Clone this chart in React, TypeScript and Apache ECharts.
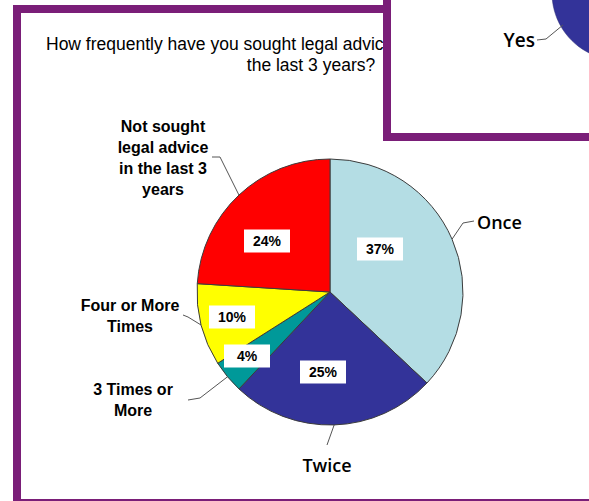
import React, { useEffect, useRef } from "react";
import * as echarts from "echarts";

// ---------------- data ----------------
const categories = [
  "Once",
  "Twice",
  "3 Times or More",
  "Four or More Times",
  "Not sought legal advice in the last 3 years",
];
const shares = [37, 25, 4, 10, 24];
const outsideLabels = [
  "Once",
  "Twice",
  "3 Times or\nMore",
  "Four or More\nTimes",
  "Not sought\nlegal advice\nin the last 3\nyears",
];
const titleLines = ["How frequently have you sought legal advice in", "the last 3 years?"];
const insetLabel = "Yes";

// ---------------- styles / layout ----------------
const sliceColors = ["#b4dde4", "#333399", "#009999", "#ffff00", "#ff0000"];
const PURPLE = "#7a1e78";
const ARIAL = '"Liberation Sans", Arial, sans-serif';
const SANS = '"Open Sans", "Noto Sans", sans-serif';
const PIE_CX = 330;
const PIE_CY = 292;
const PIE_R = 133;

// inside (percentage) label centres, offsets from pie centre
const insideLabelOffset = [
  [50, -43],
  [-7, 80],
  [-83, 64],
  [-98, 25],
  [-63, -51],
];
// outside label anchors, offsets from pie centre
const outsideLabelPlace = [
  { dx: 147, dy: -70, align: "left" },
  { dx: -3, dy: 173, align: "center" },
  { dx: -197, dy: 108, align: "center" },
  { dx: -200, dy: 24, align: "center" },
  { dx: -167, dy: -134, align: "center" },
];
// leader line bends (offsets from pie centre)
const leaderBends = [
  [[133, -69], [144, -71]],
  [[-3, 153], [-3, 153]],
  [[-130, 106], [-142, 108]],
  [[-142, 25], [-147, 23]],
  [[-110, -135], [-118, -135]],
];
const outsideFonts = [
  { fontFamily: SANS, fontWeight: 600, fontSize: 18, lineHeight: 22 },
  { fontFamily: SANS, fontWeight: 600, fontSize: 18, lineHeight: 22 },
  { fontFamily: ARIAL, fontWeight: "bold", fontSize: 16, lineHeight: 21 },
  { fontFamily: ARIAL, fontWeight: "bold", fontSize: 16, lineHeight: 21 },
  { fontFamily: ARIAL, fontWeight: "bold", fontSize: 16, lineHeight: 21 },
];

const total = shares.reduce((a, b) => a + b, 0);
const midAngles = shares.map((v, i) => {
  const before = shares.slice(0, i).reduce((a, b) => a + b, 0);
  return ((before + v / 2) / total) * 2 * Math.PI;
});
const edgePoint = (i: number) => [
  PIE_CX + PIE_R * Math.sin(midAngles[i]),
  PIE_CY - PIE_R * Math.cos(midAngles[i]),
];

export default function App() {
  const ref = useRef<HTMLDivElement>(null);

  useEffect(() => {
    if (!ref.current) return;
    const chart = echarts.init(ref.current, null, { renderer: "svg" });

    const option: any = {
      animation: false,
      backgroundColor: "#ffffff",
      graphic: [
        {
          type: "rect",
          z: 0,
          shape: { x: 17, y: 9, width: 800, height: 494 },
          style: { fill: "#ffffff", stroke: PURPLE, lineWidth: 8 },
        },
        {
          type: "text",
          z: 1,
          x: 46,
          y: 44,
          style: {
            text: titleLines[0],
            fill: "#000",
            fontFamily: ARIAL,
            fontSize: 17.5,
            align: "left",
            verticalAlign: "middle",
          },
        },
        {
          type: "text",
          z: 1,
          x: 311,
          y: 65,
          style: {
            text: titleLines[1],
            fill: "#000",
            fontFamily: ARIAL,
            fontSize: 17.5,
            align: "center",
            verticalAlign: "middle",
          },
        },
        {
          type: "rect",
          z: 100,
          shape: { x: 387, y: -20, width: 400, height: 157 },
          style: { fill: "#ffffff", stroke: PURPLE, lineWidth: 8 },
        },
        {
          type: "circle",
          z: 101,
          shape: { cx: 619, cy: -7, r: 67 },
          style: { fill: "#333399", stroke: "#2a2a70", lineWidth: 0.5 },
        },
        {
          type: "polyline",
          z: 101,
          shape: { points: [[537, 40], [546, 39], [563, 25]] },
          style: { stroke: "#555", lineWidth: 1, fill: "none" },
        },
        {
          type: "text",
          z: 101,
          x: 535,
          y: 40,
          style: {
            text: insetLabel,
            fill: "#000",
            fontFamily: SANS,
            fontWeight: 600,
            fontSize: 19,
            align: "right",
            verticalAlign: "middle",
          },
        },
      ],
      series: [
        {
          type: "pie",
          z: 2,
          silent: true,
          center: [PIE_CX, PIE_CY],
          radius: PIE_R,
          startAngle: 90,
          clockwise: true,
          avoidLabelOverlap: false,
          emphasis: { disabled: true },
          itemStyle: { borderColor: "#3c3c3c", borderWidth: 1 },
          data: categories.map((name, i) => ({
            name,
            value: shares[i],
            itemStyle: { color: sliceColors[i] },
            label: { ...outsideFonts[i] },
          })),
          label: {
            show: true,
            position: "outside",
            color: "#000",
            formatter: (p: any) => outsideLabels[p.dataIndex],
          },
          labelLine: {
            show: true,
            length: 15,
            length2: 8,
            lineStyle: { color: "#555", width: 1 },
          },
          labelLayout: (p: any) => {
            const i = p.dataIndex;
            const place = outsideLabelPlace[i];
            const bends = leaderBends[i];
            return {
              x: PIE_CX + place.dx,
              y: PIE_CY + place.dy,
              align: place.align,
              verticalAlign: "middle",
              labelLinePoints: [
                edgePoint(i),
                [PIE_CX + bends[0][0], PIE_CY + bends[0][1]],
                [PIE_CX + bends[1][0], PIE_CY + bends[1][1]],
              ],
            };
          },
        },
        {
          type: "pie",
          z: 3,
          silent: true,
          center: [PIE_CX, PIE_CY],
          radius: PIE_R,
          startAngle: 90,
          clockwise: true,
          avoidLabelOverlap: false,
          emphasis: { disabled: true },
          itemStyle: { color: "rgba(0,0,0,0)", borderWidth: 0 },
          data: categories.map((name, i) => ({ name, value: shares[i] })),
          label: {
            show: true,
            position: "inside",
            formatter: (p: any) => `${p.value}%`,
            backgroundColor: "#ffffff",
            padding: [3, 8],
            width: 30,
            align: "center",
            color: "#000",
            fontFamily: ARIAL,
            fontWeight: "bold",
            fontSize: 14,
            lineHeight: 17,
          },
          labelLine: { show: false },
          labelLayout: (p: any) => {
            const o = insideLabelOffset[p.dataIndex];
            return {
              x: PIE_CX + o[0],
              y: PIE_CY + o[1],
              align: "center",
              verticalAlign: "middle",
            };
          },
        },
      ],
    };

    chart.setOption(option);
    return () => chart.dispose();
  }, []);

  return (
    <div
      ref={ref}
      style={{ position: "absolute", left: 0, top: 0, width: 589, height: 501 }}
    />
  );
}
